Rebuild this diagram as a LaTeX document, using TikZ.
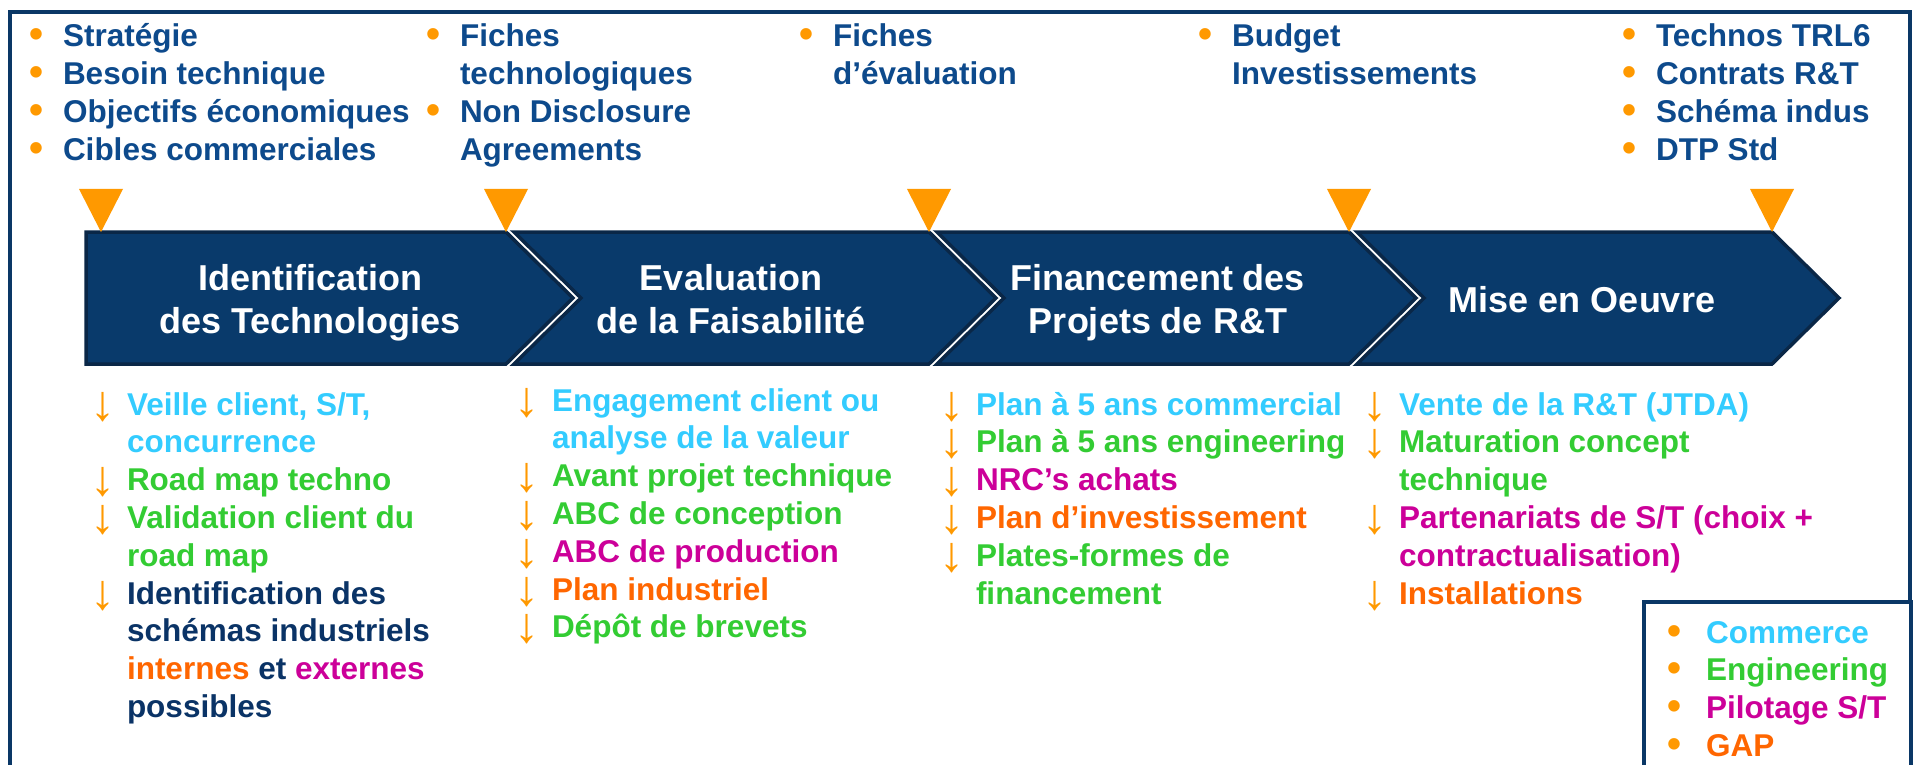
\documentclass[tikz,border=0pt]{standalone}
\usepackage{fontspec}
\setmainfont{Liberation Sans}
\newfontfamily\arrowfont{Liberation Sans}
\definecolor{framec}{HTML}{0A3766}
\definecolor{chfill}{HTML}{093A6B}
\definecolor{chborder}{HTML}{0A2747}
\definecolor{topblue}{HTML}{0D4A8C}
\definecolor{navyT}{HTML}{0A3366}
\definecolor{cyanT}{HTML}{33CCFF}
\definecolor{greenT}{HTML}{33CC33}
\definecolor{magT}{HTML}{CC0099}
\definecolor{orT}{HTML}{FF6600}
\definecolor{bulor}{HTML}{FF9900}
\newlength\bw
\newcommand\tb{\textcolor{bulor}{\raisebox{-1pt}{\fontsize{40}{40}\selectfont •}}}
\newcommand\da{\makebox[16pt][c]{\smash{\textcolor{bulor}{\raisebox{-5pt}{\arrowfont\mdseries\fontsize{50}{50}\selectfont ↓}}}}}
\newcommand\LI[2]{\noindent\makebox[\bw][l]{#1}#2\par}
\newcommand\colbox[2]{\begin{minipage}[t]{520pt}\raggedright\fontsize{31.5}{37.8}\selectfont\bfseries\setlength\bw{#1}#2\end{minipage}}
\newcommand\chtext[1]{\begin{minipage}[t]{420pt}\centering\fontsize{36}{43}\selectfont\bfseries #1\end{minipage}}
\tikzset{
  frameline/.style={draw=framec, line width=4.5pt},
  chev/.style={fill=chfill, draw=chborder, line width=3.5pt, line join=miter},
  tri/.style={fill=bulor, draw=none},
  txt/.style={anchor=base west, inner sep=0pt, outer sep=0pt},
  chtxt/.style={anchor=base, inner sep=0pt, outer sep=0pt, text=white}
}
\begin{document}
\begin{tikzpicture}[x=1pt,y=-1pt]
\useasboundingbox[fill=white] (0,0) rectangle (1915,765);
% outer frame
\draw[frameline] (10,768) -- (10,12) -- (1910,12) -- (1910,768);
% chevrons
\draw[chev] (86,232) -- (506,232) -- (573,298) -- (506,364) -- (86,364) -- cycle;
\draw[chev] (514,232) -- (929,232) -- (996,298) -- (929,364) -- (514,364) -- (581,298) -- cycle;
\draw[chev] (937,232) -- (1349,232) -- (1416,298) -- (1349,364) -- (937,364) -- (1004,298) -- cycle;
\draw[chev] (1357,232) -- (1772,232) -- (1839,298) -- (1772,364) -- (1357,364) -- (1424,298) -- cycle;
% triangles
\fill[tri] (79,189) -- (123,189) -- (101,232) -- cycle;
\fill[tri] (484,189) -- (528,189) -- (506,232) -- cycle;
\fill[tri] (907,189) -- (951,189) -- (929,232) -- cycle;
\fill[tri] (1327,189) -- (1371,189) -- (1349,232) -- cycle;
\fill[tri] (1750,189) -- (1794,189) -- (1772,232) -- cycle;
% chevron texts
\node[chtxt] (c1) at (310,290) {\chtext{Identification\\des Technologies}};
\node[chtxt] (c2) at (731,290) {\chtext{Evaluation\\de la Faisabilité}};
\node[chtxt] (c3) at (1158,290) {\chtext{Financement des\\Projets de R\&T}};
\node[chtxt] (c4) at (1582,312) {\chtext{Mise en Oeuvre}};
% top lists
\node[txt, text=topblue] (t1) at (29,47) {\colbox{34pt}{%
\LI{\tb}{Stratégie}\LI{\tb}{Besoin technique}\LI{\tb}{Objectifs économiques}\LI{\tb}{Cibles commerciales}}};
\node[txt, text=topblue] (t2) at (426,47) {\colbox{34pt}{%
\LI{\tb}{Fiches}\LI{}{technologiques}\LI{\tb}{Non Disclosure}\LI{}{Agreements}}};
\node[txt, text=topblue] (t3) at (799,47) {\colbox{34pt}{%
\LI{\tb}{Fiches}\LI{}{d’évaluation}}};
\node[txt, text=topblue] (t4) at (1198,47) {\colbox{34pt}{%
\LI{\tb}{Budget}\LI{}{Investissements}}};
\node[txt, text=topblue] (t5) at (1622,47) {\colbox{34pt}{%
\LI{\tb}{Technos TRL6}\LI{\tb}{Contrats R\&T}\LI{\tb}{Schéma indus}\LI{\tb}{DTP Std}}};
% bottom lists
\node[txt] (b1) at (95,415) {\colbox{32pt}{%
\LI{\da}{\textcolor{cyanT}{Veille client, S/T,}}%
\LI{}{\textcolor{cyanT}{concurrence}}%
\LI{\da}{\textcolor{greenT}{Road map techno}}%
\LI{\da}{\textcolor{greenT}{Validation client du}}%
\LI{}{\textcolor{greenT}{road map}}%
\LI{\da}{\textcolor{navyT}{Identification des}}%
\LI{}{\textcolor{navyT}{schémas industriels}}%
\LI{}{\textcolor{orT}{internes} \textcolor{navyT}{et} \textcolor{magT}{externes}}%
\LI{}{\textcolor{navyT}{possibles}}}};
\node[txt] (b2) at (519,411) {\colbox{33pt}{%
\LI{\da}{\textcolor{cyanT}{Engagement client ou}}%
\LI{}{\textcolor{cyanT}{analyse de la valeur}}%
\LI{\da}{\textcolor{greenT}{Avant projet technique}}%
\LI{\da}{\textcolor{greenT}{ABC de conception}}%
\LI{\da}{\textcolor{magT}{ABC de production}}%
\LI{\da}{\textcolor{orT}{Plan industriel}}%
\LI{\da}{\textcolor{greenT}{Dépôt de brevets}}}};
\node[txt] (b3) at (944,415) {\colbox{32pt}{%
\LI{\da}{\textcolor{cyanT}{Plan à 5 ans commercial}}%
\LI{\da}{\textcolor{greenT}{Plan à 5 ans engineering}}%
\LI{\da}{\textcolor{magT}{NRC’s achats}}%
\LI{\da}{\textcolor{orT}{Plan d’investissement}}%
\LI{\da}{\textcolor{greenT}{Plates-formes de}}%
\LI{}{\textcolor{greenT}{financement}}}};
\node[txt] (b4) at (1367,415) {\colbox{32pt}{%
\LI{\da}{\textcolor{cyanT}{Vente de la R\&T (JTDA)}}%
\LI{\da}{\textcolor{greenT}{Maturation concept}}%
\LI{}{\textcolor{greenT}{technique}}%
\LI{\da}{\textcolor{magT}{Partenariats de S/T (choix +}}%
\LI{}{\textcolor{magT}{contractualisation)}}%
\LI{\da}{\textcolor{orT}{Installations}}}};
% legend box
\draw[frameline, fill=white] (1644,768) -- (1644,602) -- (1911,602) -- (1911,768);
\node[txt] (lg) at (1667,643) {\colbox{39pt}{%
\LI{\tb}{\textcolor{cyanT}{Commerce}}%
\LI{\tb}{\textcolor{greenT}{Engineering}}%
\LI{\tb}{\textcolor{magT}{Pilotage S/T}}%
\LI{\tb}{\textcolor{orT}{GAP}}}};
\end{tikzpicture}
\end{document}
